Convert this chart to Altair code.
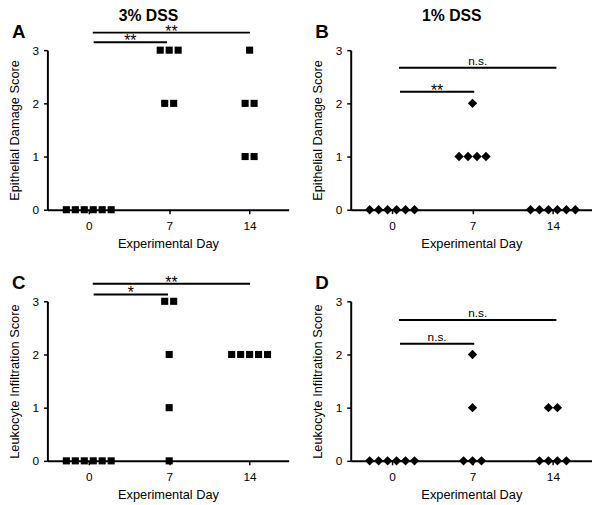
import altair as alt
import pandas as pd

FONT = "Liberation Sans"

# ---- data ----
day_ticks = [0, 7, 14]

# Panel A: 3% DSS, epithelial damage score
a_day = [0, 0, 0, 0, 0, 0, 7, 7, 7, 7, 7, 14, 14, 14, 14, 14]
a_score = [0, 0, 0, 0, 0, 0, 3, 3, 3, 2, 2, 3, 2, 2, 1, 1]
# Panel B: 1% DSS, epithelial damage score
b_day = [0, 0, 0, 0, 0, 0, 7, 7, 7, 7, 7, 14, 14, 14, 14, 14, 14]
b_score = [0, 0, 0, 0, 0, 0, 2, 1, 1, 1, 1, 0, 0, 0, 0, 0, 0]
# Panel C: 3% DSS, leukocyte infiltration score
c_day = [0, 0, 0, 0, 0, 0, 7, 7, 7, 7, 7, 14, 14, 14, 14, 14]
c_score = [0, 0, 0, 0, 0, 0, 3, 3, 2, 1, 0, 2, 2, 2, 2, 2]
# Panel D: 1% DSS, leukocyte infiltration score
d_day = [0, 0, 0, 0, 0, 0, 7, 7, 7, 7, 7, 14, 14, 14, 14, 14, 14]
d_score = [0, 0, 0, 0, 0, 0, 2, 1, 0, 0, 0, 1, 1, 0, 0, 0, 0]

# significance brackets: start day, end day, height (score units), label
a_sig_x1 = [0.35, 0.43]
a_sig_x2 = [14.04, 6.81]
a_sig_y = [3.33, 3.15]
a_sig_lab = ["**", "**"]

b_sig_x1 = [0.6, 0.69]
b_sig_x2 = [14.3, 7.15]
b_sig_y = [2.67, 2.22]
b_sig_lab = ["n.s.", "**"]

c_sig_x1 = [0.35, 0.43]
c_sig_x2 = [14.04, 6.9]
c_sig_y = [3.33, 3.13]
c_sig_lab = ["**", "*"]

d_sig_x1 = [0.6, 0.69]
d_sig_x2 = [14.3, 7.15]
d_sig_y = [2.65, 2.2]
d_sig_lab = ["n.s.", "n.s."]

SPREAD = 0.78  # horizontal spacing of tied points, in day units


def panel(days, scores, sx1, sx2, sy, slab, shape, size, letter, ytitle, title=None):
    pts = pd.DataFrame({"day": days, "score": scores})
    sig = pd.DataFrame({"x1": sx1, "x2": sx2, "y": sy, "label": slab})
    sig["mid"] = (sig["x1"] + sig["x2"]) / 2
    sig["star"] = sig["label"].str.contains(r"\*")

    xscale = alt.Scale(domain=[-3.6, 17.4], nice=False, zero=False)
    yscale = alt.Scale(domain=[0, 3], nice=False, zero=False)
    xaxis = alt.Axis(values=day_ticks, title="Experimental Day", format="d")
    yaxis = alt.Axis(values=[0, 1, 2, 3], title=ytitle, format="d")

    points = (
        alt.Chart(pts)
        .transform_window(rank="row_number()", groupby=["day", "score"])
        .transform_joinaggregate(n="count()", groupby=["day", "score"])
        .transform_calculate(xpos=f"datum.day + (datum.rank - (datum.n + 1) / 2) * {SPREAD}")
        .mark_point(shape=shape, filled=True, size=size, color="black", opacity=1)
        .encode(
            x=alt.X("xpos:Q", scale=xscale, axis=xaxis),
            y=alt.Y("score:Q", scale=yscale, axis=yaxis),
        )
    )
    rules = (
        alt.Chart(sig)
        .mark_rule(color="black", strokeWidth=2)
        .encode(x="x1:Q", x2="x2:Q", y="y:Q")
    )
    star_txt = (
        alt.Chart(sig)
        .transform_filter("datum.star")
        .mark_text(font=FONT, fontSize=16, baseline="alphabetic", dy=4, color="black")
        .encode(x="mid:Q", y="y:Q", text="label:N")
    )
    ns_txt = (
        alt.Chart(sig)
        .transform_filter("!datum.star")
        .mark_text(font=FONT, fontSize=12, baseline="alphabetic", dy=-3, color="black")
        .encode(x="mid:Q", y="y:Q", text="label:N")
    )
    let = (
        alt.Chart(pd.DataFrame({"t": [letter]}))
        .mark_text(font=FONT, fontSize=19, fontWeight="bold", align="left",
                   baseline="middle", color="black")
        .encode(x=alt.value(-36), y=alt.value(-18), text="t:N")
    )
    ch = alt.layer(points, rules, star_txt, ns_txt, let).properties(width=245, height=162)
    if title is not None:
        ch = ch.properties(
            title=alt.Title(title, font=FONT, fontSize=16, fontWeight="bold",
                            color="black", anchor="middle", frame="bounds", offset=0)
        )
    return ch


A = panel(a_day, a_score, a_sig_x1, a_sig_x2, a_sig_y, a_sig_lab, "square", 52, "A",
          "Epithelial Damage Score", "3% DSS")
B = panel(b_day, b_score, b_sig_x1, b_sig_x2, b_sig_y, b_sig_lab, "diamond", 90, "B",
          "Epithelial Damage Score", "1% DSS")
C = panel(c_day, c_score, c_sig_x1, c_sig_x2, c_sig_y, c_sig_lab, "square", 52, "C",
          "Leukocyte Infiltration Score")
D = panel(d_day, d_score, d_sig_x1, d_sig_x2, d_sig_y, d_sig_lab, "diamond", 90, "D",
          "Leukocyte Infiltration Score")

chart = (
    alt.concat(A, B, C, D, columns=2, spacing={"row": 93, "column": 63})
    .properties(bounds="flush", padding={"top": -4, "left": 0, "right": 0, "bottom": 0})
    .configure_view(stroke=None)
    .configure_axis(
        grid=False,
        domainColor="black",
        domainWidth=2,
        tickColor="black",
        tickWidth=1.5,
        tickSize=4,
        labelFont=FONT,
        labelFontSize=12,
        labelColor="black",
        labelPadding=5,
        titleFont=FONT,
        titleFontSize=13,
        titleFontWeight="normal",
        titleColor="black",
        titlePadding=6,
    )
    .configure_axisX(labelPadding=7)
    .configure_axisY(titlePadding=11)
)

chart.save("out.html", embed_options={"renderer": "svg", "actions": False})
